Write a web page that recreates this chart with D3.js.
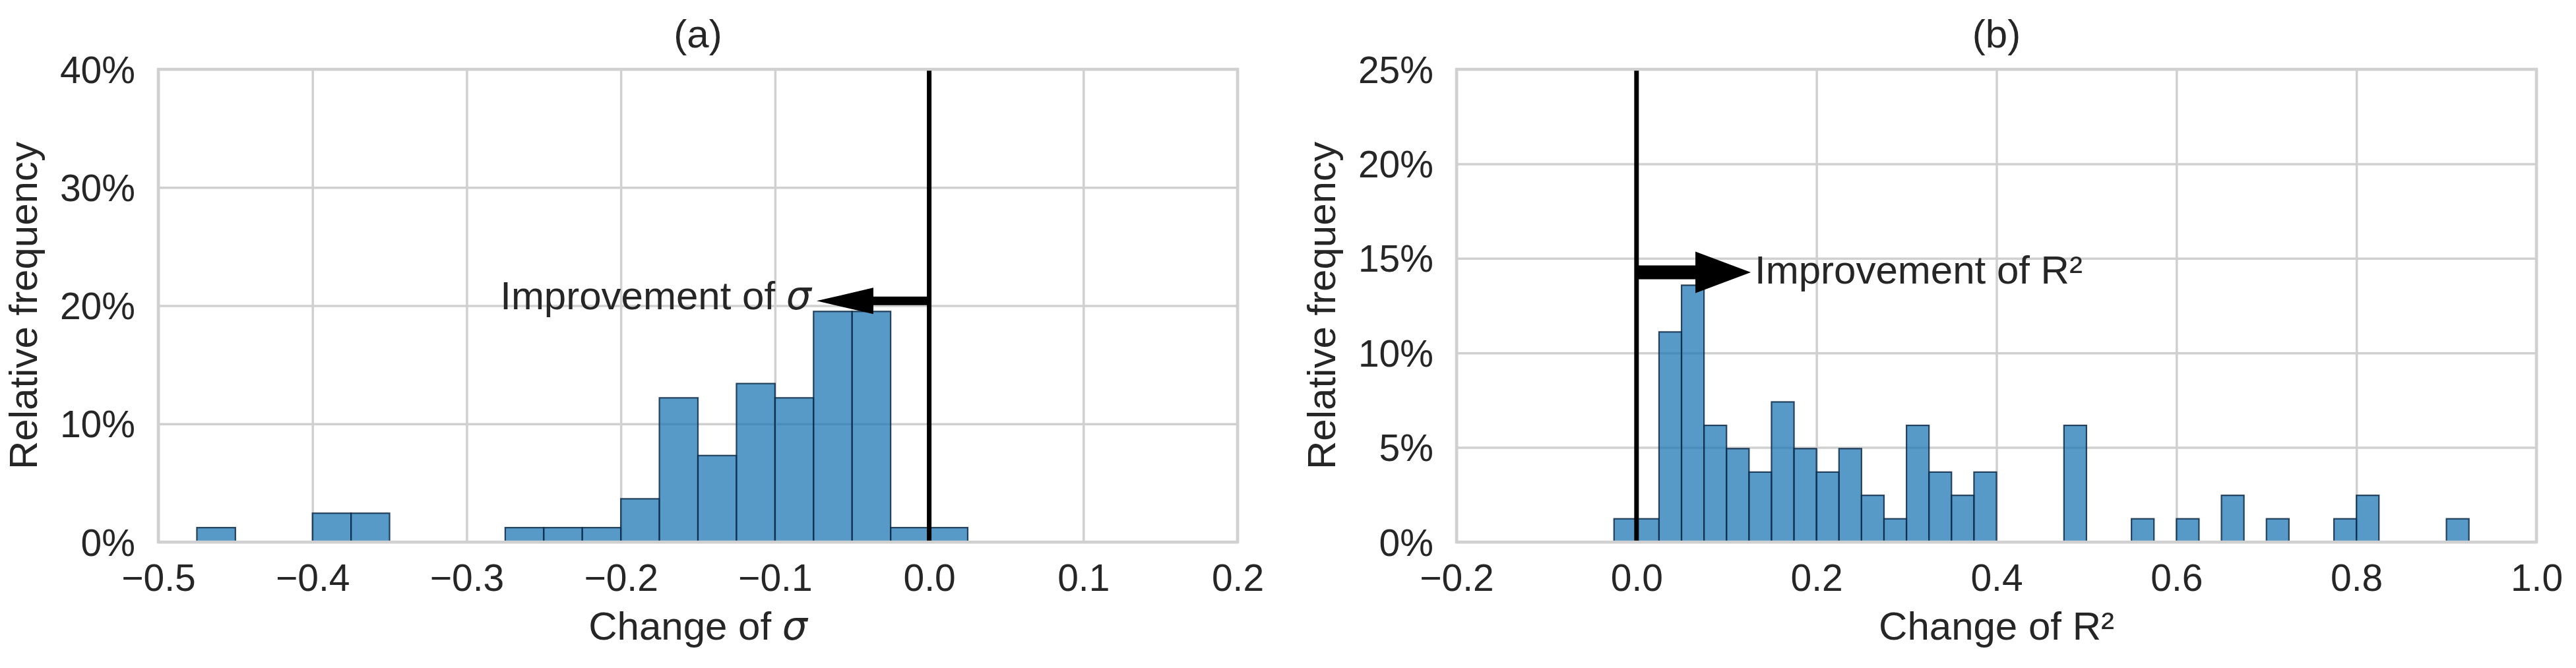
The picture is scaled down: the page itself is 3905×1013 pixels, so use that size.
<!DOCTYPE html>
<html>

<head>
  <title>Change of sigma and R² histograms</title>
  <meta charset="utf-8">
<style>
    body {
      margin: 0;
      padding: 0;
      background: #ffffff;
    }
    svg {
      display: block;
      font-family: 'Liberation Sans', Arial, sans-serif;
    }
    .grid line {
      stroke: #d0d0d0;
      stroke-width: 3.5;
    }
    .grid .domain {
      display: none;
    }
    .tick text {
      fill: #262626;
      font-size: 57px;
    }
    .frame {
      fill: none;
      stroke: #d0d0d0;
      stroke-width: 4.5;
    }
    .bar {
      fill: #1f77b4;
      fill-opacity: 0.75;
      stroke: #0e2a47;
      stroke-opacity: 0.85;
      stroke-width: 2.2;
    }
    .zero {
      stroke: #000000;
      stroke-width: 7;
    }
    .label, .title, .note {
      fill: #262626;
      font-size: 60px;
    }
    .math {
      font-family: 'DejaVu Sans', sans-serif;
      font-style: italic;
    }
  </style>
</head>

<body>
  <div id="chart"></div>

  <script src="https://d3js.org/d3.v7.min.js"></script>
  <script>

  // panel (a): change of sigma, lower bin edges and relative frequency (%)
  var sigmaBins = [-0.475, -0.45, -0.425, -0.4, -0.375, -0.35, -0.325, -0.3, -0.275, -0.25,
                   -0.225, -0.2, -0.175, -0.15, -0.125, -0.1, -0.075, -0.05, -0.025, 0.0]
  var sigmaFreq = [1.22, 0, 0, 2.44, 2.44, 0, 0, 0, 1.22, 1.22,
                   1.22, 3.66, 12.20, 7.32, 13.41, 12.20, 19.51, 19.51, 1.22, 1.22]
  var sigmaTicksX = [-0.5, -0.4, -0.3, -0.2, -0.1, 0.0, 0.1, 0.2]
  var sigmaTicksY = [0, 10, 20, 30, 40]

  // panel (b): change of R², lower bin edges and relative frequency (%)
  var r2Bins = [-0.025, 0.0, 0.025, 0.05, 0.075, 0.1, 0.125, 0.15, 0.175, 0.2,
                0.225, 0.25, 0.275, 0.3, 0.325, 0.35, 0.375, 0.475, 0.55, 0.6,
                0.65, 0.7, 0.775, 0.8, 0.9]
  var r2Freq = [1.23, 1.23, 11.11, 13.58, 6.17, 4.94, 3.70, 7.41, 4.94, 3.70,
                4.94, 2.47, 1.23, 6.17, 3.70, 2.47, 3.70, 6.17, 1.23, 1.23,
                2.47, 1.23, 1.23, 2.47, 1.23]
  var r2TicksX = [-0.2, 0.0, 0.2, 0.4, 0.6, 0.8, 1.0]
  var r2TicksY = [0, 5, 10, 15, 20, 25]

  var binWidth = 0.025

  var width = 3905,
      height = 1013,
      plotTop = 105,
      plotBottom = 822

  var svg = d3.select("#chart")
    .append("svg")
    .attr("width", width)
    .attr("height", height)

  svg.append("rect")
    .attr("width", width)
    .attr("height", height)
    .attr("fill", "#ffffff")

  drawPanel({
    left: 240, right: 1876,
    xDomain: [-0.5, 0.2], yDomain: [0, 40],
    ticksX: sigmaTicksX, ticksY: sigmaTicksY,
    bins: sigmaBins, freq: sigmaFreq,
    title: "(a)", xLabel: "Change of ", symbol: "σ", italic: true,
    arrow: { y: 20.4, from: 0, to: -0.073, shaft: 13, head: 40, headLen: 86 },
    note: { x: -0.0765, y: 19.7, anchor: "end" }
  })

  drawPanel({
    left: 2208, right: 3845,
    xDomain: [-0.2, 1.0], yDomain: [0, 25],
    ticksX: r2TicksX, ticksY: r2TicksY,
    bins: r2Bins, freq: r2Freq,
    title: "(b)", xLabel: "Change of ", symbol: "R²", italic: false,
    arrow: { y: 14.26, from: 0, to: 0.127, shaft: 21, head: 63, headLen: 84 },
    note: { x: 0.1314, y: 13.67, anchor: "start" }
  })

  function drawPanel(cfg) {

    var x = d3.scaleLinear().domain(cfg.xDomain).range([cfg.left, cfg.right])
    var y = d3.scaleLinear().domain(cfg.yDomain).range([plotBottom, plotTop])
    var plotH = plotBottom - plotTop,
        plotW = cfg.right - cfg.left

    var g = svg.append("g")

    // vertical grid + x tick labels
    var xAxis = g.append("g")
      .attr("class", "grid")
      .attr("transform", "translate(0," + plotBottom + ")")
      .call(d3.axisBottom(x)
        .tickValues(cfg.ticksX)
        .tickFormat(d3.format(".1f"))
        .tickSizeInner(-plotH)
        .tickSizeOuter(0))
    xAxis.selectAll(".tick text").attr("y", 74).attr("dy", null)

    // horizontal grid + y tick labels
    var yAxis = g.append("g")
      .attr("class", "grid")
      .attr("transform", "translate(" + cfg.left + ",0)")
      .call(d3.axisLeft(y)
        .tickValues(cfg.ticksY)
        .tickFormat(function (d) { return d + "%" })
        .tickSizeInner(-plotW)
        .tickSizeOuter(0))
    yAxis.selectAll(".tick text").attr("x", -35).attr("y", 20).attr("dy", null)

    g.selectAll(".grid").attr("font-family", null).attr("font-size", null)

    // histogram bars (skip empty bins)
    var data = cfg.bins.map(function (b, i) { return { x0: b, x1: b + binWidth, f: cfg.freq[i] } })
      .filter(function (d) { return d.f > 0 })

    g.append("g")
      .selectAll("rect")
      .data(data)
      .enter().append("rect")
      .attr("class", "bar")
      .attr("x", function (d) { return x(d.x0) })
      .attr("width", function (d) { return x(d.x1) - x(d.x0) })
      .attr("y", function (d) { return y(d.f) })
      .attr("height", function (d) { return y(0) - y(d.f) })

    // line at zero change
    g.append("line")
      .attr("class", "zero")
      .attr("x1", x(0)).attr("x2", x(0))
      .attr("y1", plotTop).attr("y2", plotBottom)

    // arrow pointing to the improvement side
    var a = cfg.arrow,
        x0 = x(a.from),
        x1 = x(a.to),
        ya = y(a.y),
        dir = x1 > x0 ? 1 : -1,
        xb = x1 - dir * a.headLen
    var pts = [
      [x0, ya - a.shaft / 2], [xb, ya - a.shaft / 2], [xb, ya - a.head / 2],
      [x1, ya], [xb, ya + a.head / 2], [xb, ya + a.shaft / 2], [x0, ya + a.shaft / 2]
    ]
    g.append("path")
      .attr("d", d3.line()(pts) + "Z")
      .attr("fill", "#000000")

    var note = g.append("text")
      .attr("class", "note")
      .attr("x", x(cfg.note.x))
      .attr("y", y(cfg.note.y))
      .attr("text-anchor", cfg.note.anchor)
    note.append("tspan").text("Improvement of ")
    note.append("tspan").attr("class", cfg.italic ? "math" : null).text(cfg.symbol)

    // axes frame
    g.append("rect")
      .attr("class", "frame")
      .attr("x", cfg.left).attr("y", plotTop)
      .attr("width", plotW).attr("height", plotH)

    // title
    g.append("text")
      .attr("class", "title")
      .attr("x", (cfg.left + cfg.right) / 2)
      .attr("y", 72)
      .attr("text-anchor", "middle")
      .text(cfg.title)

    // x label
    var xl = g.append("text")
      .attr("class", "label")
      .attr("x", (cfg.left + cfg.right) / 2)
      .attr("y", 970)
      .attr("text-anchor", "middle")
    xl.append("tspan").text(cfg.xLabel)
    xl.append("tspan").attr("class", cfg.italic ? "math" : null).text(cfg.symbol)

    // y label
    g.append("text")
      .attr("class", "label")
      .attr("transform", "translate(" + (cfg.left - 184) + "," + ((plotTop + plotBottom) / 2) + ") rotate(-90)")
      .attr("text-anchor", "middle")
      .text("Relative frequency")
  }

  </script>
</body>

</html>
